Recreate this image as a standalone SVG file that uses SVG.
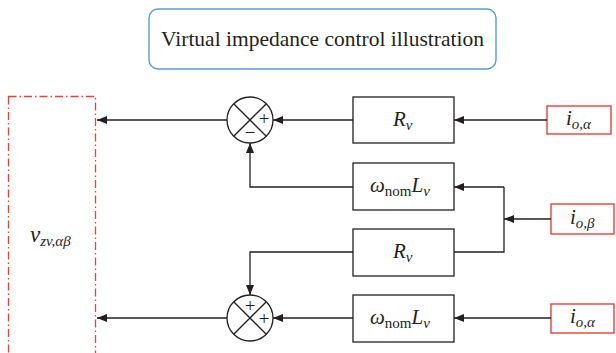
<svg xmlns="http://www.w3.org/2000/svg" width="616" height="353" viewBox="0 0 616 353">
<defs>
<marker id="ah" viewBox="0 0 10 8" refX="10" refY="4" markerWidth="10" markerHeight="8" markerUnits="userSpaceOnUse" orient="auto">
<path d="M0,0 L10,4 L0,8 Z" fill="#231f20"/>
</marker>
<style>
.ln{fill:none;stroke:#231f20;stroke-width:1.3}
.arr{fill:none;stroke:#231f20;stroke-width:1.3;marker-end:url(#ah)}
.box{fill:#fff;stroke:#231f20;stroke-width:1.3}
.inb{fill:#fff;stroke:#e8403a;stroke-width:1.4}
.t{font-family:"Liberation Serif","DejaVu Serif",serif;fill:#231f20}
.i{font-style:italic}
.sg{font-family:"Liberation Serif","DejaVu Serif",serif;font-size:19px;fill:#231f20;text-anchor:middle}
</style>
</defs>
<rect width="616" height="353" fill="#fff"/>

<g id="title">
<rect x="149" y="9" width="347" height="60" rx="9" fill="#fff" stroke="#5b9bd5" stroke-width="1.4"/>
<text class="t" x="322.5" y="46" font-size="21.5" text-anchor="middle">Virtual impedance control illustration</text>
</g>

<g id="output">
<rect x="8.5" y="96.5" width="87" height="258" fill="none" stroke="#e8403a" stroke-width="1.3" stroke-dasharray="8,3,1.5,3"/>
<text class="t i" x="30" y="242" font-size="23">v<tspan font-size="15" dy="4">zv,αβ</tspan></text>
</g>

<g id="sum1">
<circle cx="250" cy="120" r="23" class="box"/>
<path class="ln" d="M233.7,103.7 L266.3,136.3 M266.3,103.7 L233.7,136.3"/>
<text class="sg" x="264" y="125">+</text>
<text class="sg" x="250" y="139">−</text>
</g>

<g id="sum2">
<circle cx="250" cy="318" r="23" class="box"/>
<path class="ln" d="M233.7,301.7 L266.3,334.3 M266.3,301.7 L233.7,334.3"/>
<text class="sg" x="250" y="312">+</text>
<text class="sg" x="264" y="325">+</text>
</g>

<g id="rv1">
<rect x="353" y="97" width="101" height="46" class="box"/>
<text class="t i" x="393" y="126" font-size="21">R<tspan font-size="15" dy="4">v</tspan></text>
</g>

<g id="wl1">
<rect x="353" y="163" width="101" height="47" class="box"/>
<text class="t" x="370" y="192" font-size="21"><tspan class="i">ω</tspan><tspan font-size="15" dy="4">nom</tspan><tspan class="i" dy="-4">L</tspan><tspan class="i" font-size="15" dy="4">v</tspan></text>
</g>

<g id="rv2">
<rect x="353" y="229" width="101" height="47" class="box"/>
<text class="t i" x="393" y="258" font-size="21">R<tspan font-size="15" dy="4">v</tspan></text>
</g>

<g id="wl2">
<rect x="353" y="295" width="101" height="47" class="box"/>
<text class="t" x="370" y="324" font-size="21"><tspan class="i">ω</tspan><tspan font-size="15" dy="4">nom</tspan><tspan class="i" dy="-4">L</tspan><tspan class="i" font-size="15" dy="4">v</tspan></text>
</g>

<g id="in1">
<rect x="547" y="106" width="64" height="28" class="inb"/>
<text class="t i" x="566" y="125" font-size="21">i<tspan font-size="15" dy="4">o,α</tspan></text>
</g>

<g id="in2">
<rect x="551" y="204" width="63" height="30" class="inb"/>
<text class="t i" x="570" y="224" font-size="21">i<tspan font-size="15" dy="4">o,β</tspan></text>
</g>

<g id="in3">
<rect x="551" y="304" width="63" height="29" class="inb"/>
<text class="t i" x="570" y="323" font-size="21">i<tspan font-size="15" dy="4">o,α</tspan></text>
</g>

<g id="connectors">
<path class="arr" d="M547,120 L454,120"/>
<path class="arr" d="M353,120 L273,120"/>
<path class="arr" d="M227,120 L97,120"/>
<path class="arr" d="M353,187 L250,187 L250,143"/>
<path class="arr" d="M551,219 L504,219"/>
<path class="arr" d="M504,187 L454,187"/>
<path class="ln" d="M504,187 L504,252 L454,252"/>
<path class="arr" d="M353,252 L250,252 L250,295"/>
<path class="arr" d="M551,318 L454,318"/>
<path class="arr" d="M353,318 L273,318"/>
<path class="arr" d="M227,318 L97,318"/>
</g>
</svg>
